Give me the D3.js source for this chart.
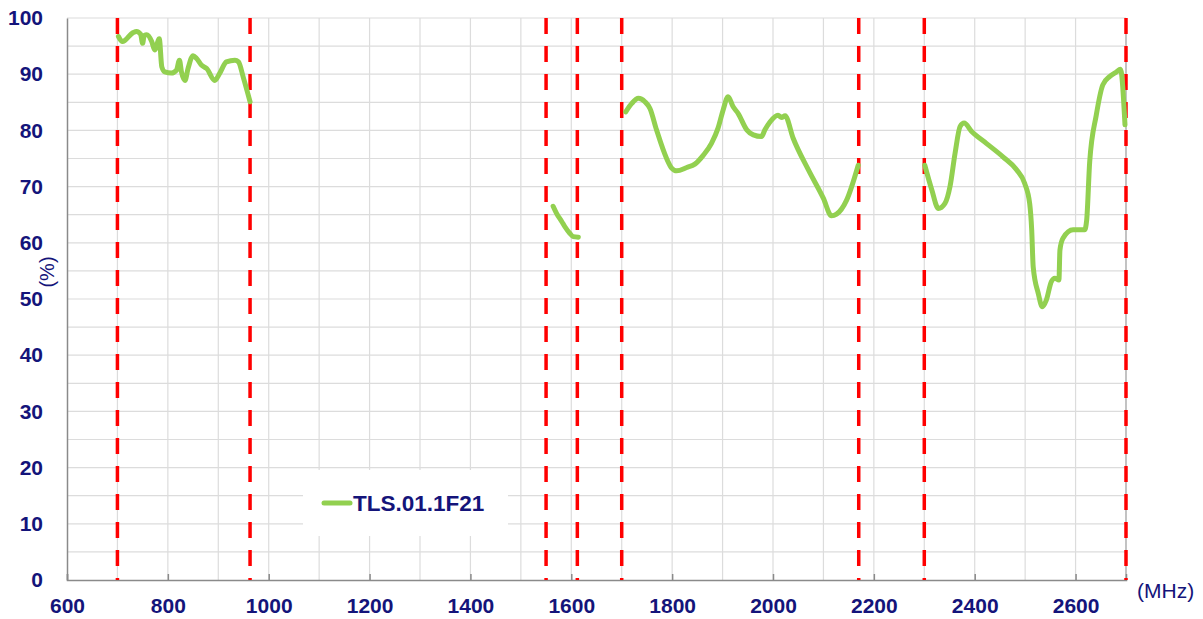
<!DOCTYPE html>
<html>
<head>
<meta charset="utf-8">
<script src="https://cdn.jsdelivr.net/npm/d3@7"></script>
<style>
  body { margin: 0; background: #fff; }
  svg { display: block; font-family: Arial, "Liberation Sans", sans-serif; }
</style>
</head>
<body>
<svg width="1203" height="619"></svg>
<script>
// readings, MHz vs efficiency (%)
const band1Mhz = [702, 710, 731, 738, 746, 750, 753, 758, 768, 774, 783, 788, 794, 807, 817, 823, 827, 834, 840, 850, 857, 867, 877, 893, 903, 916, 933, 940, 950, 963];
const band1Eff = [96.7, 95.8, 97.4, 97.6, 97.1, 95.5, 96.9, 97.0, 95.8, 94.3, 96.3, 91.3, 90.4, 90.2, 90.7, 92.5, 90.4, 88.9, 91.0, 93.3, 92.8, 91.6, 91.0, 88.9, 90.2, 92.2, 92.5, 92.2, 89.3, 85.1];

const band2Mhz = [1564, 1571, 1581, 1587, 1597, 1604, 1614];
const band2Eff = [66.5, 65.2, 63.8, 62.9, 61.7, 61.1, 61.0];

const band3Mhz = [1708, 1720, 1733, 1746, 1756, 1769, 1789, 1799, 1809, 1829, 1845, 1862, 1878, 1891, 1901, 1911, 1921, 1931, 1948, 1961, 1977, 1984, 1994, 2010, 2017, 2024, 2040, 2070, 2100, 2116, 2126, 2146, 2169];
const band3Eff = [83.3, 84.8, 85.7, 85.1, 83.9, 80.1, 75.0, 73.3, 72.8, 73.4, 74.0, 75.6, 77.7, 80.4, 83.6, 86.0, 84.2, 83.0, 80.1, 79.2, 78.9, 80.1, 81.5, 82.7, 82.3, 82.6, 78.6, 73.0, 67.9, 64.8, 65.1, 67.6, 73.8];

const band4Mhz = [2301, 2315, 2328, 2341, 2351, 2361, 2371, 2379, 2394, 2423, 2456, 2483, 2499, 2509, 2513, 2516, 2526, 2534, 2542, 2552, 2559, 2567, 2569, 2575, 2595, 2608, 2618, 2622, 2628, 2641, 2654, 2668, 2681, 2689, 2698];
const band4Eff = [73.8, 69.4, 66.1, 67.0, 70.0, 75.9, 80.7, 81.3, 79.8, 77.7, 75.3, 73.0, 70.6, 67.0, 62.3, 55.7, 51.0, 48.6, 49.8, 53.1, 53.7, 53.4, 58.7, 60.8, 62.3, 62.3, 62.3, 64.0, 74.4, 82.7, 88.1, 89.6, 90.4, 90.9, 81.0];

const bandEdges = [700, 963, 1550, 1612, 1700, 2170, 2300, 2700];
const xTicks = [600, 800, 1000, 1200, 1400, 1600, 1800, 2000, 2200, 2400, 2600];
const yTicks = [0, 10, 20, 30, 40, 50, 60, 70, 80, 90, 100];
const seriesName = "TLS.01.1F21";

const navy = "#14147a";
const green = "#92d050";

const svg = d3.select("svg");
const margin = { left: 67, right: 1126, top: 18, bottom: 580 };

const x = d3.scaleLinear().domain([600, 2700]).range([margin.left, margin.right]);
const y = d3.scaleLinear().domain([0, 100]).range([margin.bottom, margin.top]);

// grid
const grid = svg.append("g");
grid.selectAll(".vg").data(d3.range(700, 2701, 100)).join("line")
    .attr("x1", d => x(d)).attr("x2", d => x(d))
    .attr("y1", margin.top).attr("y2", margin.bottom)
    .attr("stroke", d => d === 2700 ? "#9a9a9a" : "#dcdcdc").attr("stroke-width", 1.2);
grid.selectAll(".hg").data(d3.range(5, 101, 5)).join("line")
    .attr("x1", margin.left).attr("x2", margin.right)
    .attr("y1", d => y(d)).attr("y2", d => y(d))
    .attr("stroke", "#dcdcdc").attr("stroke-width", 1.2);

// legend box (covers grid)
const legend = svg.append("g");
legend.append("rect")
    .attr("x", 303).attr("y", 470).attr("width", 205).attr("height", 66)
    .attr("fill", "#fff");
legend.append("line")
    .attr("x1", 324).attr("x2", 350).attr("y1", 503).attr("y2", 503)
    .attr("stroke", green).attr("stroke-width", 5).attr("stroke-linecap", "round");
legend.append("text")
    .attr("x", 353).attr("y", 511)
    .attr("fill", navy).attr("font-size", 22.5).attr("font-weight", "bold")
    .text(seriesName);

// axes
const xAxis = svg.append("g")
    .attr("transform", `translate(0,${margin.bottom})`)
    .call(d3.axisBottom(x).tickValues(xTicks).tickSize(-6).tickPadding(18).tickFormat(d3.format("d")));
const yAxis = svg.append("g")
    .attr("transform", `translate(${margin.left},0)`)
    .call(d3.axisLeft(y).tickValues(yTicks).tickSize(0).tickPadding(24));

[xAxis, yAxis].forEach(a => {
    a.select(".domain").attr("stroke", "#8a8a8a").attr("stroke-width", 1.5);
    a.selectAll(".tick line").attr("stroke", "#8a8a8a").attr("stroke-width", 1.5);
    a.selectAll("text")
        .attr("fill", navy).attr("font-size", 21).attr("font-weight", "bold")
        .attr("font-family", "Arial, 'Liberation Sans', sans-serif");
});
xAxis.selectAll(".tick text").attr("dy", "0.71em");

svg.append("text")
    .attr("x", 1137).attr("y", 598)
    .attr("fill", navy).attr("font-size", 21)
    .text("(MHz)");
svg.append("text")
    .attr("transform", "translate(54,272) rotate(-90)")
    .attr("text-anchor", "middle")
    .attr("fill", navy).attr("font-size", 20)
    .text("(%)");

// band edge markers
svg.append("g").selectAll("line").data(bandEdges).join("line")
    .attr("x1", d => x(d)).attr("x2", d => x(d))
    .attr("y1", margin.top).attr("y2", margin.bottom)
    .attr("stroke", "#ff0000").attr("stroke-width", 3.5)
    .attr("stroke-dasharray", "16,12");

// curves
const bands = [
    [band1Mhz, band1Eff],
    [band2Mhz, band2Eff],
    [band3Mhz, band3Eff],
    [band4Mhz, band4Eff]
];
const line = d3.line()
    .x(d => x(d[0]))
    .y(d => y(d[1]))
    .curve(d3.curveMonotoneX);

svg.append("g").selectAll("path").data(bands).join("path")
    .attr("d", ([f, e]) => line(f.map((v, i) => [v, e[i]])))
    .attr("fill", "none")
    .attr("stroke", green).attr("stroke-width", 5)
    .attr("stroke-linejoin", "round").attr("stroke-linecap", "round");
</script>
</body>
</html>
